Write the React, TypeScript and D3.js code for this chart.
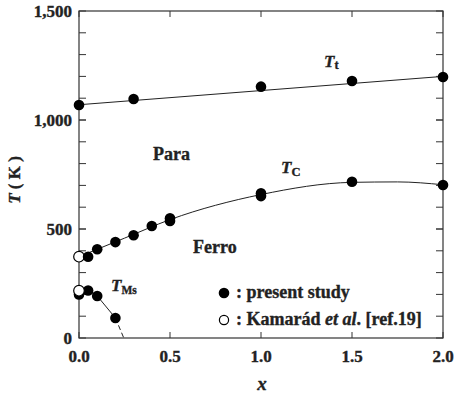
import React from "react";
import * as d3 from "d3";

// ---- data ----
const ttX = [0, 0.3, 1.0, 1.5, 2.0];
const ttT = [1069, 1096, 1153, 1179, 1197];
const ttLineX = [0, 2.0];
const ttLineT = [1070, 1200];

const tcX = [0.05, 0.1, 0.2, 0.3, 0.4, 0.5, 0.5, 1.0, 1.0, 1.5, 2.0];
const tcT = [373, 407, 440, 471, 514, 549, 537, 664, 651, 717, 702];
const tcFitX = [0, 0.25, 0.5, 1.0, 1.5, 1.75, 2.0];
const tcFitT = [373, 458, 543, 658, 714, 716, 703];

const tmsX = [0, 0.05, 0.1, 0.2];
const tmsT = [200, 218, 193, 92];
const tmsLineX = [0.05, 0.1, 0.2];
const tmsLineT = [218, 193, 92];
const tmsDashX = [0.2, 0.246];
const tmsDashT = [92, 0];

const refX = [0, 0];
const refT = [373, 217];

const xTicks = [0, 0.5, 1.0, 1.5, 2.0];
const xTickLabels = ["0.0", "0.5", "1.0", "1.5", "2.0"];
const yMajor = [0, 500, 1000, 1500];
const yMajorLabels = ["0", "500", "1,000", "1,500"];
const yMinor = d3.range(100, 1500, 100);

const W = 454, H = 399;
const L = 79, R = 443, T = 11, B = 338;
const FONT = "'Liberation Serif', 'Times New Roman', serif";
const RAD = 5.3;
const TICK = 7;
const INK = "#222";

export default function App() {
  const x = d3.scaleLinear().domain([0, 2]).range([L, R]);
  const y = d3.scaleLinear().domain([0, 1500]).range([B, T]);
  const line = d3.line<[number, number]>().x(d => x(d[0])).y(d => y(d[1]));
  const smooth = d3.line<[number, number]>().x(d => x(d[0])).y(d => y(d[1])).curve(d3.curveMonotoneX);
  const zip = (a: number[], b: number[]) => a.map((v, i) => [v, b[i]] as [number, number]);
  const stroke = "#222";
  const txt = { fontWeight: "bold" as const, fill: INK, stroke: INK, strokeWidth: 0.35 };

  return (
    <svg width={W} height={H} style={{ position: "absolute", left: 0, top: 0, background: "#fff" }} fontFamily={FONT}>
      {/* lines */}
      <path d={line(zip(ttLineX, ttLineT)) || ""} fill="none" stroke={stroke} strokeWidth={1} />
      <path d={smooth(zip(tcFitX, tcFitT)) || ""} fill="none" stroke={stroke} strokeWidth={1} />
      <path d={line(zip(tmsLineX, tmsLineT)) || ""} fill="none" stroke={stroke} strokeWidth={1} />
      <path d={line(zip(tmsDashX, tmsDashT)) || ""} fill="none" stroke={stroke} strokeWidth={1} strokeDasharray="5,3" />

      {/* frame */}
      <rect x={L} y={T} width={R - L} height={B - T} fill="none" stroke="#333" strokeWidth={1.2} />
      {/* y ticks */}
      {[...yMinor, ...yMajor].map((v, i) => (
        <g key={"y" + i}>
          <line x1={L} x2={L + TICK} y1={y(v)} y2={y(v)} stroke="#333" strokeWidth={1} />
          <line x1={R} x2={R - TICK} y1={y(v)} y2={y(v)} stroke="#333" strokeWidth={1} />
        </g>
      ))}
      {/* x ticks */}
      {xTicks.map((v, i) => (
        <g key={"x" + i}>
          <line x1={x(v)} x2={x(v)} y1={B} y2={B - TICK + 1} stroke="#333" strokeWidth={1} />
          <line x1={x(v)} x2={x(v)} y1={T} y2={T + TICK - 1} stroke="#333" strokeWidth={1} />
        </g>
      ))}
      {/* tick labels */}
      {yMajor.map((v, i) => (
        <text key={"yl" + i} x={L - 7} y={y(v) + 6} textAnchor="end" fontSize={17} {...txt}>
          {yMajorLabels[i]}
        </text>
      ))}
      {xTicks.map((v, i) => (
        <text key={"xl" + i} x={x(v)} y={362} textAnchor="middle" fontSize={17} {...txt}>
          {xTickLabels[i]}
        </text>
      ))}
      {/* axis titles */}
      <text x={262} y={390} textAnchor="middle" fontSize={19} fontStyle="italic" {...txt}>x</text>
      <text transform="translate(20,180) rotate(-90)" textAnchor="middle" fontSize={17} {...txt}>
        <tspan fontStyle="italic">T</tspan> ( K )
      </text>

      {/* points */}
      {zip(tmsX, tmsT).map((d, i) => (
        <circle key={"m" + i} cx={x(d[0])} cy={y(d[1])} r={RAD} fill="#000" />
      ))}
      {zip(refX, refT).map((d, i) => (
        <circle key={"r" + i} cx={x(d[0])} cy={y(d[1])} r={RAD} fill="#fff" stroke="#000" strokeWidth={1.2} />
      ))}
      {zip(ttX, ttT).map((d, i) => (
        <circle key={"t" + i} cx={x(d[0])} cy={y(d[1])} r={RAD} fill="#000" />
      ))}
      {zip(tcX, tcT).map((d, i) => (
        <circle key={"c" + i} cx={x(d[0])} cy={y(d[1])} r={RAD} fill="#000" />
      ))}

      {/* annotations */}
      <text x={324} y={67} fontSize={17} {...txt}>
        <tspan fontStyle="italic">T</tspan><tspan fontSize={12.5} dy={2}>t</tspan>
      </text>
      <text x={281} y={173} fontSize={17} {...txt}>
        <tspan fontStyle="italic">T</tspan><tspan fontSize={12.5} dy={3}>C</tspan>
      </text>
      <text x={111} y={291} fontSize={17} {...txt}>
        <tspan fontStyle="italic">T</tspan><tspan fontSize={11.5} dy={3}>Ms</tspan>
      </text>
      <text x={153} y={160} fontSize={18} {...txt}>Para</text>
      <text x={193} y={253} fontSize={18} {...txt}>Ferro</text>

      {/* legend */}
      <circle cx={224} cy={293} r={RAD} fill="#000" />
      <text x={236} y={298} fontSize={18} {...txt}>: present study</text>
      <circle cx={224} cy={320} r={4.6} fill="#fff" stroke="#000" strokeWidth={1.2} />
      <text x={236} y={325} fontSize={18} {...txt}>
        : Kamarád <tspan fontStyle="italic">et al</tspan>. [ref.19]
      </text>
    </svg>
  );
}
